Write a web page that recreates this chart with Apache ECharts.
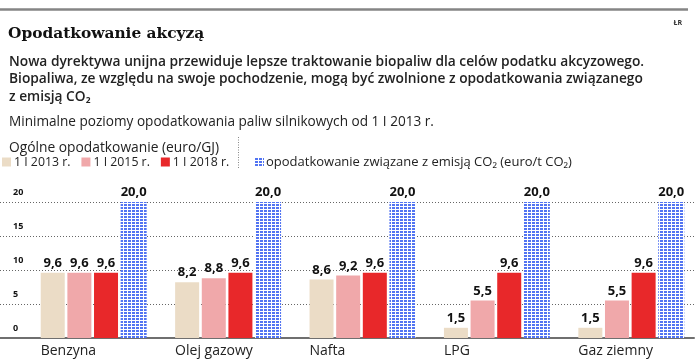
<!DOCTYPE html>
<html><head><meta charset="utf-8">
<script src="https://cdn.jsdelivr.net/npm/echarts@6/dist/echarts.min.js"></script>
<style>html,body{margin:0;padding:0;background:#fff}#c{width:700px;height:362px}</style>
</head><body><div id="c"></div>
<script>
const categories = ['Benzyna', 'Olej gazowy', 'Nafta', 'LPG', 'Gaz ziemny'];
const tax2013 = [9.6, 8.2, 8.6, 1.5, 1.5];
const tax2015 = [9.6, 8.8, 9.2, 5.5, 5.5];
const tax2018 = [9.6, 9.6, 9.6, 9.6, 9.6];
const co2Tax = [20, 20, 20, 20, 20];
const seriesNames = ['1 I 2013 r.', '1 I 2015 r.', '1 I 2018 r.', 'opodatkowanie związane z emisją CO₂ (euro/t CO₂)'];
const yMin = 0, yMax = 20, yStep = 5;

const FONT = 'Open Sans';
const pc = document.createElement('canvas');
pc.width = 4; pc.height = 3;
const g = pc.getContext('2d');
g.fillStyle = '#ffffff'; g.fillRect(0, 0, 4, 3);
g.fillStyle = '#5274f2'; g.fillRect(0, 0, 3, 2);
const bluePattern = { image: pc, repeat: 'repeat' };

const comma = p => p.value.toFixed(1).replace('.', ',');
const valLabel = {
  show: true, position: 'top', distance: 3, formatter: comma,
  fontFamily: FONT, fontWeight: 'bold', fontSize: 13, color: '#111'
};

const chart = echarts.init(document.getElementById('c'), null, { renderer: 'canvas' });
chart.setOption({
  backgroundColor: '#ffffff',
  animation: false,
  title: [
    { text: 'ŁR', right: 13, top: 14, textStyle: { fontFamily: FONT, fontSize: 7, fontWeight: 'bold', color: '#333' } },
    { text: 'Opodatkowanie akcyzą', left: 3, top: 21, textStyle: { fontFamily: 'DejaVu Serif', fontSize: 15.4, fontWeight: 'bold', color: '#111' } },
    { text: 'Nowa dyrektywa unijna przewiduje lepsze traktowanie biopaliw dla celów podatku akcyzowego.\nBiopaliwa, ze względu na swoje pochodzenie, mogą być zwolnione z opodatkowania związanego\nz emisją CO₂',
      left: 4, top: 48, textStyle: { fontFamily: FONT, fontSize: 13.75, fontWeight: 600, color: '#222', lineHeight: 17.5 } },
    { text: 'Minimalne poziomy opodatkowania paliw silnikowych od 1 I 2013 r.', left: 4, top: 110,
      textStyle: { fontFamily: FONT, fontSize: 13.6, fontWeight: 'normal', color: '#222' } },
    { text: 'Ogólne opodatkowanie (euro/GJ)', left: 4, top: 136,
      textStyle: { fontFamily: FONT, fontSize: 13.8, fontWeight: 'normal', color: '#222' } }
  ],
  legend: [
    { data: seriesNames.slice(0, 3), left: 2, top: 156, padding: 0, itemWidth: 9, itemHeight: 9, itemGap: 11, icon: 'rect',
      textStyle: { fontFamily: FONT, fontSize: 12.3, color: '#222', padding: [0, 0, 0, -2] } },
    { data: seriesNames.slice(3), left: 255, top: 156, padding: 0, itemWidth: 9, itemHeight: 9, icon: 'rect',
      textStyle: { fontFamily: FONT, fontSize: 13, color: '#222', padding: [0, 0, 0, -3] } }
  ],
  graphic: [
    { type: 'line', shape: { x1: 0, y1: 9.5, x2: 688, y2: 9.5 }, style: { stroke: '#858585', lineWidth: 2.5 } },
    { type: 'line', shape: { x1: 238.5, y1: 137, x2: 238.5, y2: 168 }, style: { stroke: '#888', lineWidth: 1, lineDash: [1, 1.5] } }
  ],
  grid: [
    { left: 0, right: 6, top: 202, bottom: 24 },
    { left: 26.5, right: 1.5, top: 202, bottom: 24 }
  ],
  xAxis: [
    { gridIndex: 0, type: 'value', min: 0, max: 1, axisLine: { show: true, lineStyle: { color: '#6f6f6f', width: 2 } },
      axisTick: { show: false }, axisLabel: { show: false }, splitLine: { show: false } },
    { gridIndex: 1, type: 'category', data: categories, axisLine: { show: false }, axisTick: { show: false },
      axisLabel: { margin: 6, formatter: v => '{a|' + v + '}',
        rich: { a: { width: 106, align: 'left', fontFamily: FONT, fontSize: 14, color: '#222' } } } }
  ],
  yAxis: [
    { gridIndex: 0, type: 'value', min: yMin, max: yMax, interval: yStep,
      axisLine: { show: false }, axisTick: { show: false },
      axisLabel: { inside: true, margin: 13, verticalAlign: 'bottom', padding: [0, 0, 5, 0],
        fontFamily: FONT, fontSize: 9, fontWeight: 'bold', color: '#111' },
      splitLine: { show: true, lineStyle: { color: '#666', width: 1, type: [1, 2] } } },
    { gridIndex: 1, type: 'value', min: yMin, max: yMax, show: false, splitLine: { show: false } }
  ],
  series: [
    { name: seriesNames[0], type: 'bar', xAxisIndex: 1, yAxisIndex: 1, data: tax2013, barWidth: 24, barGap: '11%',
      itemStyle: { color: '#ebdcc6' }, label: valLabel },
    { name: seriesNames[1], type: 'bar', xAxisIndex: 1, yAxisIndex: 1, data: tax2015, barWidth: 24, barGap: '11%',
      itemStyle: { color: '#f0a8aa' }, label: valLabel },
    { name: seriesNames[2], type: 'bar', xAxisIndex: 1, yAxisIndex: 1, data: tax2018, barWidth: 24, barGap: '11%',
      itemStyle: { color: '#e8282a' }, label: valLabel },
    { name: seriesNames[3], type: 'bar', xAxisIndex: 1, yAxisIndex: 1, data: co2Tax, barWidth: 26, barGap: '11%',
      itemStyle: { color: bluePattern }, label: valLabel }
  ]
});
</script></body></html>
